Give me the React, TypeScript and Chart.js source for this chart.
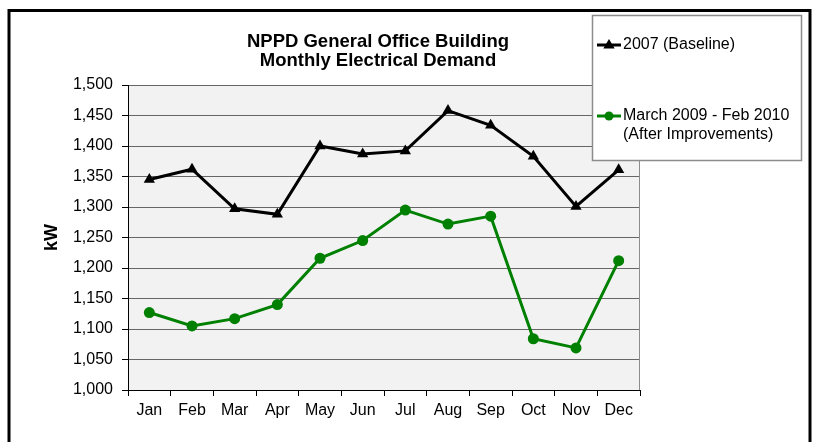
import React, { useEffect, useRef } from 'react';
import { Chart, registerables } from 'chart.js';

Chart.register(...registerables);

const months = ['Jan', 'Feb', 'Mar', 'Apr', 'May', 'Jun', 'Jul', 'Aug', 'Sep', 'Oct', 'Nov', 'Dec'];
const baseline2007 = [1345, 1362, 1297, 1288, 1400, 1387, 1392, 1458, 1434, 1383, 1301, 1361];
const after2009 = [1127, 1105, 1117, 1140, 1216, 1245, 1295, 1272, 1285, 1084, 1069, 1212];
const seriesLabels = ['2007 (Baseline)', 'March 2009 - Feb 2010\n(After Improvements)'];
const titleLines = ['NPPD General Office Building', 'Monthly Electrical Demand'];
const yAxisTitle = 'kW';
const yMin = 1000;
const yMax = 1500;
const yStep = 50;

const FONT = "'Liberation Sans', Arial, Helvetica, sans-serif";

function drawMarker(ctx: CanvasRenderingContext2D, style: string, x: number, y: number, r: number, color: string) {
  ctx.fillStyle = color;
  ctx.beginPath();
  if (style === 'triangle') {
    ctx.moveTo(x, y - r);
    ctx.lineTo(x + r * 0.95, y + r * 0.6);
    ctx.lineTo(x - r * 0.95, y + r * 0.6);
    ctx.closePath();
  } else {
    ctx.arc(x, y, r, 0, Math.PI * 2);
  }
  ctx.fill();
}

const decorPlugin = {
  id: 'decor',
  beforeDraw(chart: any) {
    const { ctx, chartArea: a } = chart;
    ctx.save();
    ctx.fillStyle = '#ffffff';
    ctx.fillRect(0, 0, chart.width, chart.height);
    ctx.lineWidth = 3;
    ctx.strokeStyle = '#000000';
    ctx.strokeRect(9, 10.5, 801, 600);
    ctx.fillStyle = '#f2f2f2';
    ctx.fillRect(a.left, a.top, a.right - a.left, a.bottom - a.top);
    ctx.restore();
  },
  beforeDatasetsDraw(chart: any) {
    const { ctx, chartArea: a } = chart;
    ctx.save();
    ctx.strokeStyle = '#8c8c8c';
    ctx.lineWidth = 1;
    ctx.beginPath();
    ctx.moveTo(a.right - 0.5, a.top);
    ctx.lineTo(a.right - 0.5, a.bottom);
    ctx.stroke();
    ctx.restore();
  },
  afterDraw(chart: any) {
    const { ctx } = chart;
    ctx.save();
    // title
    ctx.fillStyle = '#000';
    ctx.font = `bold 18.5px ${FONT}`;
    ctx.textAlign = 'center';
    ctx.textBaseline = 'middle';
    titleLines.forEach((t, i) => ctx.fillText(t, 378, 41.5 + i * 19.5));

    // legend box
    ctx.fillStyle = '#ffffff';
    ctx.fillRect(592, 15, 209, 146);
    ctx.strokeStyle = '#8c8c8c';
    ctx.lineWidth = 1.5;
    ctx.strokeRect(592.5, 15.5, 209, 145);

    const rows = [45, 116];
    chart.data.datasets.forEach((ds: any, i: number) => {
      const y = rows[i];
      ctx.strokeStyle = ds.borderColor;
      ctx.lineWidth = 3;
      ctx.beginPath();
      ctx.moveTo(597, y);
      ctx.lineTo(621, y);
      ctx.stroke();
      drawMarker(ctx, ds.pointStyle, 609, y, ds.pointStyle === 'triangle' ? 6 : 4.5, ds.borderColor);
      ctx.fillStyle = '#000';
      ctx.font = `16px ${FONT}`;
      ctx.textAlign = 'left';
      ctx.textBaseline = 'middle';
      String(ds.label).split('\n').forEach((line: string, j: number) => {
        ctx.fillText(line, 623, y + j * 19);
      });
    });
    ctx.restore();
  },
};

export default function App() {
  const ref = useRef<HTMLCanvasElement | null>(null);
  useEffect(() => {
    if (!ref.current) return;
    const chart = new Chart(ref.current, {
      type: 'line',
      data: {
        labels: months,
        datasets: [
          {
            label: seriesLabels[0],
            data: baseline2007,
            borderColor: '#000000',
            backgroundColor: '#000000',
            borderWidth: 3,
            pointStyle: 'triangle',
            pointRadius: 6.5,
            pointBackgroundColor: '#000000',
            pointBorderWidth: 0,
            tension: 0,
          },
          {
            label: seriesLabels[1],
            data: after2009,
            borderColor: '#008000',
            backgroundColor: '#008000',
            borderWidth: 3,
            pointStyle: 'circle',
            pointRadius: 5.5,
            pointBackgroundColor: '#008000',
            pointBorderWidth: 0,
            tension: 0,
          },
        ],
      },
      options: {
        responsive: false,
        animation: false,
        layout: { padding: { top: 85, right: 174, bottom: 0, left: 0 } },
        plugins: {
          legend: { display: false },
          title: { display: false },
          tooltip: { enabled: false },
        },
        scales: {
          x: {
            offset: true,
            grid: {
              offset: true,
              drawOnChartArea: false,
              drawTicks: true,
              tickLength: 6,
              color: '#000000',
              tickColor: '#000000',
            },
            border: { display: true, color: '#000000', width: 1 },
            ticks: {
              color: '#000000',
              font: { family: FONT, size: 16 },
              padding: 5,
              maxRotation: 0,
              autoSkip: false,
            },
            afterFit: (scale: any) => {
              scale.height = 52;
            },
          },
          y: {
            min: yMin,
            max: yMax,
            ticks: {
              stepSize: yStep,
              color: '#000000',
              font: { family: FONT, size: 16 },
              padding: 9,
            },
            grid: {
              color: '#666666',
              lineWidth: 1,
              drawTicks: true,
              tickLength: 6,
              tickColor: '#000000',
            },
            border: { display: true, color: '#000000', width: 1 },
            title: {
              display: true,
              text: yAxisTitle,
              color: '#000000',
              font: { family: FONT, size: 18, weight: 'bold' },
              padding: { top: 41, bottom: 0 },
            },
            afterFit: (scale: any) => {
              scale.width = 128;
            },
          },
        },
      },
      plugins: [decorPlugin],
    });
    return () => chart.destroy();
  }, []);

  return (
    <div style={{ position: 'absolute', left: 0, top: 0, width: 814, height: 442 }}>
      <canvas ref={ref} width={814} height={442} style={{ display: 'block', width: 814, height: 442 }} />
    </div>
  );
}
